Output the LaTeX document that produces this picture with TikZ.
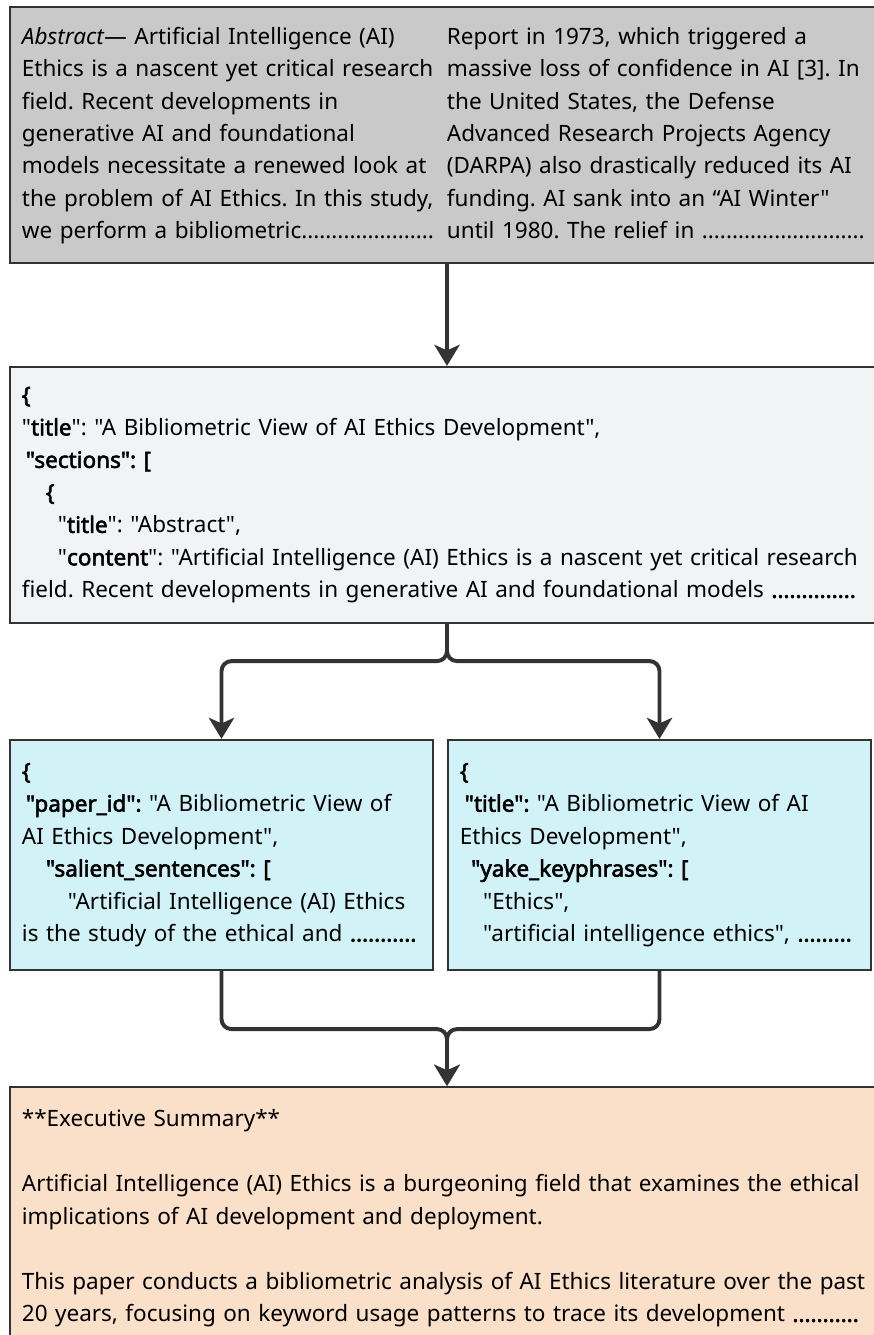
\documentclass[tikz,border=0pt]{standalone}
\usepackage{fontspec}
\setmainfont{Noto Sans}[Ligatures=TeXOff,BoldFont={Noto Sans},BoldFeatures={FakeBold=2.5}]
\usetikzlibrary{arrows.meta}

\definecolor{edge}{HTML}{333333}
\definecolor{absfill}{HTML}{C9C9C9}
\definecolor{jsonfill}{HTML}{F2F3F5}
\definecolor{keyfill}{HTML}{D1F3F8}
\definecolor{sumfill}{HTML}{FAE0C8}
\newcommand{\ind}[1]{\hspace*{#1}}
\frenchspacing

\begin{document}
\begin{tikzpicture}[x=0.025cm,y=-0.025cm]
			\tikzstyle{box}=[draw=edge,line width=1.5pt,inner xsep=0.3cm,inner ysep=0pt,align=left,font=\fontsize{16}{23.1}\selectfont]
			\tikzstyle{flow}=[draw=edge,line width=2.8pt,rounded corners=0.25cm,-{Stealth[length=15pt,width=18pt,inset=4pt]}]

			\useasboundingbox (0,0) rectangle (874,1335);
			\clip (0,0) rectangle (874,1335);

			% raw paper text
			\node (abs) at (447,135) [box,fill=absfill,text width=21.25cm,minimum height=6.4cm] {%
				\begin{tabular}{@{}p{10.625cm}@{}l@{}}
				\textit{Abstract}— Artificial Intelligence (AI) & Report in 1973, which triggered a\\
				Ethics is a nascent yet critical research & massive loss of confidence in AI [3]. In\\
				field. Recent developments in & the United States, the Defense\\
				generative AI and foundational & Advanced Research Projects Agency\\
				models necessitate a renewed look at & (DARPA) also drastically reduced its AI\\
				the problem of AI Ethics. In this study, & funding. AI sank into an “AI Winter"\\
				we perform a bibliometric...................... & until 1980. The relief in ...........................
				\end{tabular}};

			% parsed json
			\node (json) at (447,495) [box,fill=jsonfill,text width=21.25cm,minimum height=6.4cm] {%
				\textbf{\{}\\
				"\textbf{title}": "A Bibliometric View of AI Ethics Development",\\
				\ind{0.1cm}\textbf{"sections": [}\\
				\ind{0.6cm}\textbf{\{}\\
				\ind{0.9cm}"\textbf{title}": "Abstract",\\
				\ind{0.9cm}"\textbf{content}": "Artificial Intelligence (AI) Ethics is a nascent yet critical research\\
				field. Recent developments in generative AI and foundational models \textbf{..............}\\[14pt]};
			\node (salient) at (221.5,855) [box,fill=keyfill,text width=9.975cm,minimum height=5.75cm] {%
				\textbf{\{}\\
				\ind{0.1cm}\textbf{"paper\_id":} "A Bibliometric View of\\
				AI Ethics Development",\\
				\ind{0.6cm}\textbf{"salient\_sentences": [}\\
				\ind{1.15cm}"Artificial Intelligence (AI) Ethics\\
				\mbox{is the study of the ethical and \textbf{...........}}};
			\node (yake) at (659.5,855) [box,fill=keyfill,text width=9.975cm,minimum height=5.75cm] {%
				\textbf{\{}\\
				\ind{0.12cm}\textbf{"title":} "A Bibliometric View of AI\\
				Ethics Development",\\
				\ind{0.28cm}\textbf{"yake\_keyphrases": [}\\
				\ind{0.58cm}"Ethics",\\
				\ind{0.58cm}"artificial intelligence ethics", \textbf{.........}};

			% generated summary
			\node (summary) at (447,1218.5) [box,fill=sumfill,text width=21.25cm,minimum height=6.575cm] {%
				**Executive Summary**\\[23.1pt]
				Artificial Intelligence (AI) Ethics is a burgeoning field that examines the ethical\\
				implications of AI development and deployment.\\[23.1pt]
				This paper conducts a bibliometric analysis of AI Ethics literature over the past\\
				20 years, focusing on keyword usage patterns to trace its development \textbf{...........}};

			\draw [flow] (abs.south) -- (json.north);
			\draw [flow] (json.south) -- ++(0,37) -| (salient.north);
			\draw [flow] (json.south) -- ++(0,37) -| (yake.north);
			\draw [flow] (salient.south) -- ++(0,58) -| (summary.north);
			\draw [flow] (yake.south) -- ++(0,58) -| (summary.north);
		\end{tikzpicture}
\end{document}
